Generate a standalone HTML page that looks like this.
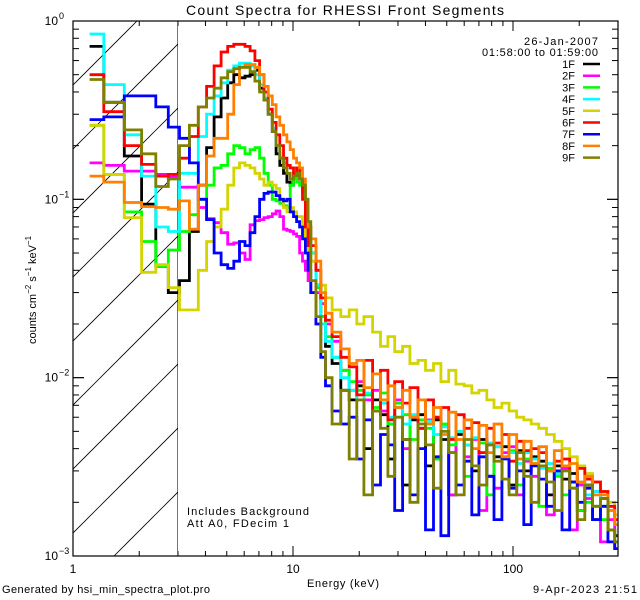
<!DOCTYPE html>
<html><head><meta charset="utf-8"><style>
html,body{margin:0;padding:0;background:#fff;}
svg{display:block;font-family:"Liberation Sans",sans-serif;}
</style></head><body>
<svg id="chart" width="640" height="600" viewBox="0 0 640 600" xmlns="http://www.w3.org/2000/svg">
<rect x="0" y="0" width="640" height="600" fill="#fff"/>
<text x="345" y="15" font-size="14" text-anchor="middle" textLength="318">Count Spectra for RHESSI Front Segments</text>
<g id="hatch"></g>
<g id="series"></g>
<g id="axes"></g>
<text x="598" y="45" font-size="11" text-anchor="end" textLength="74">26-Jan-2007</text>
<text x="598" y="56" font-size="11" text-anchor="end" textLength="116">01:58:00 to 01:59:00</text>
<g id="legend"></g>
<text x="187" y="515" font-size="11" textLength="122">Includes Background</text>
<text x="187" y="527" font-size="11" textLength="102">Att A0, FDecim 1</text>
<text x="343" y="587" font-size="11" text-anchor="middle" textLength="72">Energy (keV)</text>
<text transform="translate(36,290) rotate(-90)" font-size="11" text-anchor="middle">counts cm<tspan dy="-5" font-size="8">−2</tspan><tspan dy="5"> s</tspan><tspan dy="-5" font-size="8">−1</tspan><tspan dy="5"> keV</tspan><tspan dy="-5" font-size="8">−1</tspan></text>
<text x="2" y="593" font-size="11" textLength="208">Generated by hsi_min_spectra_plot.pro</text>
<text x="637" y="593" font-size="11" text-anchor="end" textLength="104">9-Apr-2023 21:51</text>
</svg>
<script>
const edges = [1.19,1.38,1.71,2.05,2.38,2.71,3.05,
3.38,3.71,4.05,4.38,4.71,5.05,5.38,5.71,6.05,6.38,6.71,7.05,7.38,7.71,8.05,8.38,8.71,9.05,9.38,9.71,10.05,10.38,10.71,11.05,11.38,11.71,12.05,
12.71,13.38,14.05,15.05,16.5,18,19.5,21,23,25,27,29,31.5,34,37,40,43.5,47,51,55,60,65,70,76,82,89,96,104,112,121,131,142,154,167,181,196,212,230,250,270,290,298];
const seriesNames = ["1F","2F","3F","4F","5F","6F","7F","8F","9F"];
const s1F = [0.72,0.35,0.175,0.094,0.042,0.030,
0.035,0.066,0.12,0.195,0.29,0.37,0.45,0.5,0.48,0.49,0.5,0.53,0.42,0.36,0.3,0.24,0.18,0.155,0.14,0.125,0.12,0.135,0.135,0.13,0.115,0.09,0.07,
0.05,0.033,0.022,0.015,0.012,0.0085,0.0075,0.009,0.004,0.0075,0.0062,0.0035,0.0068,0.0025,0.0058,0.0062,0.0032,0.0058,0.0045,0.0022,0.0048,0.0042,0.003,0.0045,0.0028,0.0036,0.0041,0.0025,0.0039,0.003,0.0036,0.0034,0.0022,0.0032,0.0027,0.0029,0.0018,0.0025,0.0016,0.0021,0.0014,0.0013];
const s2F = [0.16,0.155,0.144,0.144,0.138,0.133,
0.117,0.117,0.09,0.078,0.074,0.065,0.056,0.057,0.05,0.046,0.072,0.076,0.077,0.079,0.08,0.083,0.086,0.08,0.068,0.067,0.066,0.064,0.062,0.05,0.045,0.04,0.035,
0.03,0.03,0.026,0.02,0.016,0.011,0.0085,0.0095,0.0075,0.0085,0.0065,0.0055,0.0075,0.004,0.006,0.0052,0.0058,0.0035,0.0054,0.0022,0.005,0.0036,0.0045,0.0018,0.0042,0.0024,0.0038,0.0041,0.0022,0.0034,0.0028,0.0032,0.0017,0.0029,0.0031,0.0014,0.0025,0.0021,0.0023,0.0012,0.0016,0.0011];
const s3F = [0.26,0.138,0.085,0.058,0.042,0.052,
0.066,0.082,0.1,0.12,0.15,0.155,0.18,0.2,0.195,0.18,0.19,0.195,0.17,0.14,0.12,0.1,0.098,0.095,0.092,0.09,0.12,0.13,0.125,0.12,0.11,0.08,0.055,
0.045,0.032,0.022,0.017,0.013,0.011,0.0095,0.0085,0.008,0.0068,0.0082,0.0055,0.0072,0.0062,0.0045,0.0058,0.0052,0.0035,0.0055,0.0042,0.005,0.0028,0.0046,0.0043,0.0022,0.0041,0.0036,0.0039,0.0025,0.0035,0.0033,0.0019,0.0031,0.0028,0.0022,0.0024,0.0018,0.002,0.0019,0.0016,0.0014,0.0012];
const s4F = [0.845,0.44,0.23,0.135,0.07,0.066,
0.14,0.14,0.225,0.3,0.38,0.45,0.53,0.56,0.58,0.58,0.56,0.5,0.44,0.37,0.3,0.25,0.2,0.17,0.16,0.155,0.15,0.15,0.14,0.13,0.11,0.08,0.06,
0.05,0.033,0.02,0.016,0.013,0.01,0.0085,0.0075,0.0082,0.0065,0.0072,0.006,0.0068,0.0055,0.0062,0.0052,0.0057,0.0048,0.0053,0.0046,0.005,0.0042,0.0046,0.0038,0.0043,0.0041,0.0036,0.0038,0.0033,0.0038,0.0035,0.0031,0.0033,0.0029,0.003,0.0026,0.0026,0.0022,0.0023,0.0019,0.0018,0.0015];
const s5F = [0.26,0.138,0.079,0.039,0.043,0.032,
0.024,0.024,0.04,0.058,0.07,0.088,0.12,0.15,0.16,0.155,0.15,0.14,0.13,0.12,0.125,0.12,0.115,0.1,0.09,0.085,0.09,0.085,0.08,0.08,0.07,0.06,0.05,
0.045,0.04,0.033,0.028,0.024,0.022,0.024,0.02,0.022,0.018,0.015,0.017,0.014,0.015,0.012,0.0125,0.011,0.012,0.0095,0.011,0.0092,0.009,0.0082,0.0085,0.0075,0.0068,0.0072,0.0065,0.006,0.0058,0.0055,0.0052,0.0048,0.0044,0.004,0.0036,0.0032,0.0029,0.0026,0.0023,0.002,0.0017];
const s6F = [0.50,0.31,0.20,0.157,0.135,0.138,
0.17,0.225,0.33,0.43,0.56,0.67,0.72,0.74,0.74,0.72,0.68,0.6,0.5,0.4,0.32,0.27,0.23,0.2,0.17,0.155,0.15,0.14,0.15,0.13,0.1,0.07,0.055,
0.055,0.04,0.028,0.021,0.017,0.013,0.0115,0.008,0.0125,0.0065,0.011,0.0058,0.0095,0.0072,0.0088,0.0052,0.0075,0.006,0.0068,0.0045,0.0062,0.0052,0.0056,0.0038,0.0052,0.0043,0.0048,0.0034,0.0044,0.0039,0.004,0.0038,0.003,0.0034,0.0035,0.0026,0.0031,0.0027,0.0026,0.0023,0.0019,0.0016];
const s7F = [0.28,0.29,0.38,0.38,0.33,0.254,
0.22,0.16,0.1,0.077,0.05,0.043,0.041,0.045,0.058,0.055,0.065,0.08,0.1,0.108,0.11,0.11,0.105,0.1,0.098,0.1,0.085,0.08,0.075,0.07,0.06,0.05,0.04,
0.03,0.02,0.013,0.009,0.0065,0.0055,0.006,0.0035,0.0058,0.0025,0.0048,0.0042,0.0018,0.0045,0.0022,0.004,0.0014,0.0036,0.0013,0.0038,0.0025,0.0034,0.0017,0.0036,0.0028,0.0016,0.0035,0.0024,0.003,0.0015,0.0032,0.0027,0.0019,0.003,0.0014,0.0026,0.002,0.0024,0.0016,0.0019,0.0012,0.0011];
const s8F = [0.135,0.125,0.096,0.091,0.09,0.088,
0.098,0.068,0.12,0.175,0.22,0.22,0.3,0.44,0.55,0.57,0.57,0.55,0.5,0.43,0.38,0.34,0.29,0.26,0.23,0.21,0.19,0.17,0.16,0.15,0.13,0.1,0.07,
0.06,0.045,0.03,0.023,0.018,0.0145,0.012,0.0125,0.0088,0.0105,0.0075,0.009,0.0068,0.0085,0.006,0.0075,0.0055,0.0068,0.0048,0.0064,0.0045,0.0058,0.004,0.0054,0.0038,0.0055,0.0036,0.0048,0.0035,0.0044,0.0033,0.0041,0.003,0.0039,0.0032,0.0033,0.0026,0.0028,0.0022,0.0022,0.0018,0.0015];
const s9F = [0.47,0.35,0.245,0.18,0.118,0.13,
0.2,0.26,0.33,0.37,0.42,0.48,0.52,0.54,0.55,0.55,0.52,0.46,0.4,0.36,0.3,0.24,0.2,0.17,0.15,0.14,0.13,0.135,0.14,0.13,0.12,0.1,0.075,
0.035,0.022,0.014,0.01,0.0055,0.0085,0.0035,0.0075,0.0022,0.0065,0.0052,0.0028,0.006,0.0045,0.002,0.0055,0.0042,0.0024,0.005,0.0038,0.0022,0.0045,0.0032,0.0025,0.0042,0.0034,0.0027,0.0022,0.0038,0.0028,0.002,0.0032,0.0026,0.0018,0.003,0.0024,0.0016,0.0025,0.0019,0.0021,0.0014,0.0012];
const seriesColors = ["#000000","#ff00ff","#00ff00","#00ffff","#d4d400","#ff0000","#0000ff","#ff8000","#808000"];
const xTickMajor = [1,10,100];
const xTickLabels = ["1","10","100"];
const yTickMajor = [1,0.1,0.01,0.001];
const yTickExp = ["0","−1","−2","−3"];

const NS = "http://www.w3.org/2000/svg";
const L = 73, R = 618, T = 21, B = 556;
const XMIN = 1, XMAX = Math.pow(10, (R - L) / 220);
function xs(e){ return L + (R - L) * Math.log10(e / XMIN) / Math.log10(XMAX / XMIN); }
function ys(v){ return T + (B - T) * (0 - Math.log10(v)) / 3; }
function mk(tag, attrs, parent){ const el = document.createElementNS(NS, tag); for (const k in attrs) el.setAttribute(k, attrs[k]); parent.appendChild(el); return el; }

const svg = document.getElementById('chart');
const defs = mk('defs', {}, svg);
const cp = mk('clipPath', {id:'plotclip'}, defs);
mk('rect', {x:L, y:T, width:R-L, height:B-T}, cp);
const hc = mk('clipPath', {id:'hatchclip'}, defs);
mk('rect', {x:L, y:T, width:xs(3)-L, height:B-T}, hc);

const hatch = document.getElementById('hatch');
hatch.setAttribute('clip-path','url(#hatchclip)');
for (let c = 158 - 64*2; c < 800; c += 64) {
  const ln = mk('line', {x1:c-T, y1:T, x2:c-B, y2:B, stroke:'#000', 'stroke-width':0.8}, hatch);
  
  
}
const bound = mk('line', {x1:xs(3), y1:T, x2:xs(3), y2:B, stroke:'#000', 'stroke-width':1}, hatch);



const allSeries = [s1F,s2F,s3F,s4F,s5F,s6F,s7F,s8F,s9F];
const sg = document.getElementById('series');
sg.setAttribute('clip-path','url(#plotclip)');
allSeries.forEach((vals, si) => {
  let d = '';
  for (let i = 0; i < vals.length; i++) {
    const x0 = xs(edges[i]), x1 = xs(edges[i+1]), y = ys(vals[i]);
    d += (i === 0 ? 'M' : 'L') + x0.toFixed(1) + ' ' + y.toFixed(1) + ' L' + x1.toFixed(1) + ' ' + y.toFixed(1) + ' ';
  }
  const p = mk('path', {d:d, fill:'none', stroke:seriesColors[si], 'stroke-width':2.8, 'stroke-linejoin':'miter'}, sg);
  
  
});

const ax = document.getElementById('axes');
const frame = mk('rect', {x:L, y:T, width:R-L, height:B-T, fill:'none', stroke:'#000', 'stroke-width':1.2}, ax);


for (let dec = 1; dec <= 100; dec *= 10) {
  for (let m = 1; m <= 9; m++) {
    const e = dec * m; if (e > XMAX) break;
    const x = xs(e), len = (m === 1) ? 10 : 5;
    const t1 = mk('line', {x1:x, y1:B, x2:x, y2:B-len, stroke:'#000', 'stroke-width':1}, ax);
    
    
    const t2 = mk('line', {x1:x, y1:T, x2:x, y2:T+len, stroke:'#000', 'stroke-width':1}, ax);
    
    
  }
}
xTickMajor.forEach((e, i) => {
  const t = mk('text', {x:xs(e), y:573, 'font-size':12, 'text-anchor':'middle'}, ax);
  t.textContent = xTickLabels[i];
  
  
});
for (let dec = 0.001; dec < 1; dec *= 10) {
  for (let m = 1; m <= 10; m++) {
    const v = dec * m, y = ys(v), len = (m === 1 || m === 10) ? 11 : 6;
    const t1 = mk('line', {x1:L, y1:y, x2:L+len, y2:y, stroke:'#000', 'stroke-width':1}, ax);
    
    
    const t2 = mk('line', {x1:R, y1:y, x2:R-len, y2:y, stroke:'#000', 'stroke-width':1}, ax);
    
    
  }
}
yTickMajor.forEach((v, i) => {
  const t = mk('text', {x:58, y:ys(v)+4, 'font-size':12, 'text-anchor':'end'}, ax);
  t.textContent = '10';
  
  
  const s = mk('text', {x:59, y:ys(v)-2, 'font-size':9}, ax);
  s.textContent = yTickExp[i];
  
  
});

const lg = document.getElementById('legend');
seriesNames.forEach((n, i) => {
  const y = 64 + i * 11.7;
  const t = mk('text', {x:575, y:y+4, 'font-size':11, 'text-anchor':'end'}, lg);
  t.textContent = n;
  
  
  const l = mk('line', {x1:583, y1:y, x2:600, y2:y, stroke:seriesColors[i], 'stroke-width':2.5}, lg);
  
  
});
</script>
</body></html>
